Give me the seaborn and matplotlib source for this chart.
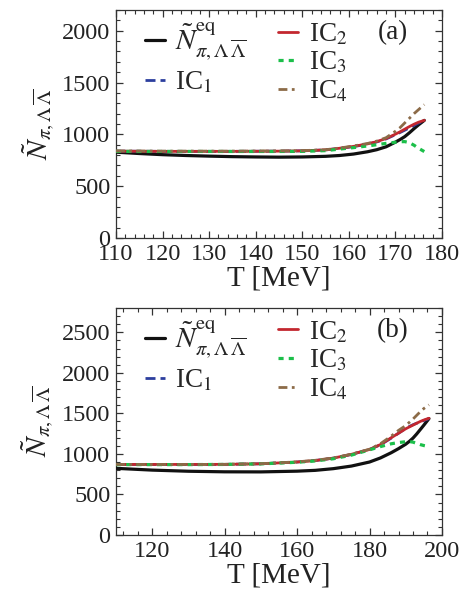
import numpy as np
import pandas as pd
import matplotlib
matplotlib.use("Agg")
import matplotlib.pyplot as plt
from matplotlib.ticker import MultipleLocator
import seaborn as sns

sns.set_style("ticks")
plt.rcParams["font.family"] = ["Liberation Serif", "DejaVu Serif"]
plt.rcParams["mathtext.fontset"] = "stix"

# ---- panel (a): temperature grid and multiplicities ----
T_a = [110, 115, 120, 125, 130, 135, 140, 145, 150, 155, 158, 161, 164, 166,
       168, 170, 171, 172, 173, 174, 175, 176.2]
eq_a = [828, 815, 804, 796, 790, 785, 782, 780, 782, 788, 796, 810, 832, 852,
        880, 925, 950, 978, 1015, 1055, 1093, 1135]
ic1_a = [838, 837, 836, 836, 836, 836, 837, 838, 841, 850, 865, 882, 905, 927,
         956, 997, 1018, 1040, 1063, 1087, 1110, 1130]
ic2_a = [838, 837, 836, 836, 836, 836, 837, 838, 841, 850, 866, 884, 908, 930,
         960, 1002, 1025, 1050, 1075, 1098, 1118, 1135]
ic3_a = [836, 835, 835, 835, 835, 835, 835, 835, 836, 843, 858, 872, 888, 900,
         913, 924, 929, 930, 920, 895, 865, 834]
ic4_a = [840, 839, 838, 838, 838, 838, 839, 840, 843, 852, 868, 888, 912, 935,
         968, 1030, 1065, 1110, 1155, 1200, 1240, 1287]

# ---- panel (b) ----
T_b = [110, 120, 130, 140, 150, 160, 165, 170, 175, 180, 183, 186, 188, 190,
       191, 192, 193, 194, 195, 196.4]
eq_b = [822, 800, 786, 779, 778, 787, 797, 818, 850, 900, 950, 1015, 1065,
        1120, 1155, 1195, 1245, 1300, 1355, 1435]
ic1_b = [870, 870, 870, 871, 878, 900, 918, 948, 993, 1055, 1112, 1195, 1255,
         1315, 1338, 1360, 1378, 1395, 1412, 1435]
ic2_b = [870, 870, 870, 871, 878, 900, 918, 948, 995, 1055, 1115, 1200, 1255,
         1310, 1333, 1355, 1378, 1400, 1418, 1440]
ic3_b = [868, 868, 868, 870, 877, 897, 913, 940, 985, 1050, 1090, 1125, 1140,
         1150, 1152, 1145, 1130, 1115, 1103, 1090]
ic4_b = [870, 870, 870, 871, 879, 902, 921, 950, 996, 1058, 1125, 1220, 1290,
         1350, 1390, 1430, 1475, 1520, 1560, 1605]

eq_label = r"$\tilde{N}^{\mathrm{eq}}_{\pi,\Lambda\,\overline{\Lambda}}$"
series_names = ["eq", "IC1", "IC2", "IC3", "IC4"]
legend_labels = [eq_label, r"IC$_1$", r"IC$_2$", r"IC$_3$", r"IC$_4$"]
colors = ["#111111", "#2c3e9e", "#c3272f", "#1cbf4a", "#8c6b48"]
styles = ["-", (0, (3.6, 1.8)), "-", (0, (1.6, 1.6)), (0, (3.2, 1.6, 1.0, 1.6))]
widths = [2.3, 2.0, 2.0, 2.3, 2.0]


def draw_panel(ax, T, ys, xlim, ylim, xmaj, xmin, tag):
    df = pd.DataFrame({"T": T})
    for name, y in zip(series_names, ys):
        df[name] = y
    handles = []
    for name, c, ls, lw in zip(series_names, colors, styles, widths):
        sns.lineplot(data=df, x="T", y=name, ax=ax, color=c, linestyle=ls,
                     linewidth=lw, zorder=3 if name == "eq" else 4)
        handles.append(ax.lines[-1])
    ax.set_xlim(*xlim)
    ax.set_ylim(*ylim)
    ax.xaxis.set_major_locator(MultipleLocator(xmaj))
    ax.xaxis.set_minor_locator(MultipleLocator(xmin))
    ax.yaxis.set_major_locator(MultipleLocator(500))
    ax.yaxis.set_minor_locator(MultipleLocator(100))
    ax.tick_params(which="both", direction="in", top=True, right=True,
                   labelsize=17.5, colors="#333333", labelcolor="#222222")
    ax.tick_params(which="major", length=5, width=0.9, pad=4)
    ax.tick_params(which="minor", length=3, width=0.8)
    for s in ax.spines.values():
        s.set_linewidth(0.9)
        s.set_color("#333333")
    ax.set_xlabel("T [MeV]", fontsize=21, labelpad=1, color="#222222")
    ax.set_ylabel(r"$\tilde{N}_{\pi,\Lambda\,\overline{\Lambda}}$",
                  fontsize=21, labelpad=4, color="#222222")

    leg1 = ax.legend(handles[:2], legend_labels[:2], loc="upper left",
                     bbox_to_anchor=(0.089, 0.955), frameon=False,
                     fontsize=19.5, handlelength=0.75, handletextpad=0.37,
                     labelspacing=0.3, borderpad=0, borderaxespad=0)
    leg1.get_texts()[0].set_fontsize(21)
    ax.add_artist(leg1)
    ax.legend(handles[2:], legend_labels[2:], loc="upper left",
              bbox_to_anchor=(0.497, 0.95), frameon=False,
              fontsize=19.5, handlelength=0.75, handletextpad=0.4,
              labelspacing=0.12, borderpad=0, borderaxespad=0)
    ax.text(0.85, 0.9, tag, transform=ax.transAxes, fontsize=19.5,
            ha="center", va="center", color="#222222")


fig = plt.figure(figsize=(4.71, 5.98), dpi=100)
ax_a = fig.add_axes([0.2463, 0.602, 0.6921, 0.3813])
ax_b = fig.add_axes([0.2463, 0.1054, 0.6921, 0.3796])

draw_panel(ax_a, T_a, [eq_a, ic1_a, ic2_a, ic3_a, ic4_a],
           (110, 180), (0, 2200), 10, 2, "(a)")
draw_panel(ax_b, T_b, [eq_b, ic1_b, ic2_b, ic3_b, ic4_b],
           (110, 200), (0, 2800), 20, 4, "(b)")

fig.savefig("out.png", dpi=100)
